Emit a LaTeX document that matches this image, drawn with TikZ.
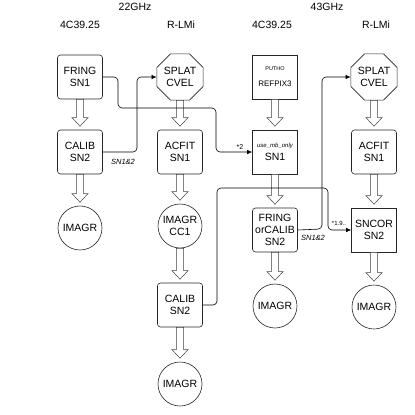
\documentclass[tikz,border=0pt]{standalone}
\usepackage{fontspec}
\setmainfont{Liberation Sans}
\usepackage{tikz}
\usetikzlibrary{calc, arrows.meta, shapes.geometric}

\begin{document}
\begin{tikzpicture}[x=1pt, y=-1pt, font=\fontsize{10.5}{12}\selectfont]
		\tikzstyle{box} = [draw=black!85, rectangle, line width=0.6pt, minimum width=45pt, minimum height=44pt, inner sep=0pt, align=center]
		\tikzstyle{rbox} = [box, rounded corners=3pt]
		\tikzstyle{oct} = [draw=black!85, regular polygon, regular polygon sides=8, line width=0.6pt, minimum size=50pt, inner sep=0pt, align=center]
		\tikzstyle{disc} = [draw=black!85, circle, line width=0.6pt, minimum size=44pt, inner sep=0pt, align=center]
		\tikzstyle{head} = [inner sep=0pt]
		\tikzstyle{note} = [inner sep=0pt, font=\fontsize{7.5}{9}\selectfont\itshape]
		\tikzstyle{arrow} = [line width=0.6pt, rounded corners=4pt, ->, >={Latex[length=5pt, width=4.5pt]}]
		\tikzstyle{hollow} = [draw=black!75, fill=white, line width=0.5pt, to path={let \p1=(\tikztostart), \p2=(\tikztotarget) in
			(\x1-3.7pt,\y1) -- (\x1-3.7pt,\y2+12pt) -- (\x1-8pt,\y2+12pt) -- (\x2,\y2+3.5pt) -- (\x1+8pt,\y2+12pt) -- (\x1+3.7pt,\y2+12pt) -- (\x1+3.7pt,\y1) -- cycle}]
		
		\useasboundingbox (0,0) rectangle (415,415);
		
		% headings
		\node[head]	at (135, 7)		(h22)	{22GHz};
		\node[head]	at (327, 7)		(h43)	{43GHz};
		\node[head]	at (80, 25)		(src1)	{4C39.25};
		\node[head]	at (181, 25)	(src2)	{R-LMi};
		\node[head]	at (272, 25)	(src3)	{4C39.25};
		\node[head]	at (376, 25)	(src4)	{R-LMi};
		
		% 22GHz, 4C39.25
		\node[rbox]	at (80, 77)		(fring1)	{FRING\\SN1};
		\node[rbox]	at (80, 152)	(calib1)	{CALIB\\SN2};
		\node[disc]	at (80, 228)	(imagr1)	{IMAGR};
		
		% 22GHz, R-LMi
		\node[oct]	at (180, 77)	(splat2)	{SPLAT\\CVEL};
		\node[rbox]	at (180, 152)	(acfit2)	{ACFIT\\SN1};
		\node[disc]	at (180, 226)	(imagr2)	{IMAGR\\CC1};
		\node[rbox]	at (180, 305)	(calib2)	{CALIB\\SN2};
		\node[disc]	at (180, 384)	(imagr3)	{IMAGR};
		
		% 43GHz, 4C39.25
		\node[box]	at (275, 77)	(refpix3)	{{\fontsize{5.5}{6}\selectfont PUTHO}\\[4pt]{\fontsize{8}{9}\selectfont REFPIX3}};
		\node[box]	at (275, 152)	(sn1)		{{\fontsize{6}{7}\selectfont\itshape use\_mb\_only}\\[1pt]SN1};
		\node[rbox]	at (275, 230)	(fringcal)	{FRING\\orCALIB\\SN2};
		\node[disc]	at (275, 306)	(imagr4)	{IMAGR};
		
		% 43GHz, R-LMi
		\node[oct]	at (374, 77)	(splat4)	{SPLAT\\CVEL};
		\node[rbox]	at (374, 152)	(acfit4)	{ACFIT\\SN1};
		\node[box]	at (374, 230)	(sncor)		{SNCOR\\SN2};
		\node[disc]	at (374, 307)	(imagr5)	{IMAGR};
		
		% task flow
		\draw[hollow] (fring1.south)	to (calib1.north);
		\draw[hollow] (calib1.south)	to (imagr1.north);
		\draw[hollow] (splat2.south)	to (acfit2.north);
		\draw[hollow] (acfit2.south)	to (imagr2.north);
		\draw[hollow] (imagr2.south)	to (calib2.north);
		\draw[hollow] (calib2.south)	to (imagr3.north);
		\draw[hollow] (refpix3.south)	to (sn1.north);
		\draw[hollow] (sn1.south)		to (fringcal.north);
		\draw[hollow] (fringcal.south)	to (imagr4.north);
		\draw[hollow] (splat4.south)	to (acfit4.north);
		\draw[hollow] (acfit4.south)	to (sncor.north);
		\draw[hollow] (sncor.south)		to (imagr5.north);
		
		% table copies
		\draw[arrow] (fring1.east) -- (118, 77) -- (118, 108) -- (216, 108) |- (sn1.west);
		\draw[arrow] (calib1.east) -- (137, 152) |- (splat2.west);
		\draw[arrow] (calib2.east) -| (217, 188) -- (328, 188) |- (sncor.west);
		\draw[arrow] (fringcal.east) -- (322, 229) |- (splat4.west);
		
		\node[note]	at (123, 162)	(n1)	{SN1\&2};
		\node[note]	at (313, 238)	(n2)	{SN1\&2};
		\node[note, font=\fontsize{7}{8}\selectfont]	at (240, 147)	(n3)	{*2};
		\node[note, font=\fontsize{6}{7}\selectfont]	at (339, 223)	(n4)	{*1.9..};
		
	\end{tikzpicture}
\end{document}
